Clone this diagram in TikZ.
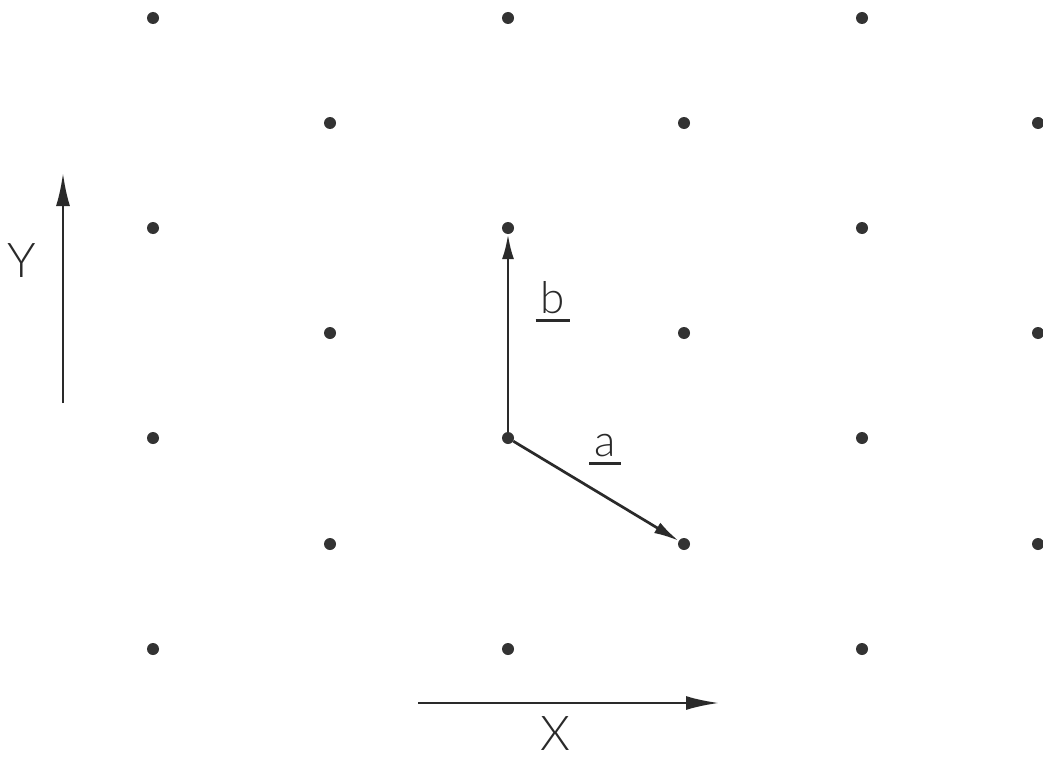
\documentclass[tikz,border=0pt]{standalone}
\usepackage{fontspec}
\setmainfont{Lato Light}
\usetikzlibrary{arrows.meta}
\definecolor{dotc}{HTML}{333333}
\definecolor{linec}{HTML}{2A2A2A}
\begin{document}
\begin{tikzpicture}[x=1pt,y=-1pt,
  dot/.style={circle,fill=dotc,inner sep=0pt,minimum size=12pt},
  vec/.style={line width=2.7pt,draw=linec,-{Latex[length=25pt,width=12pt]}},
  axisarrow/.style={line width=2.7pt,draw=linec,-{Latex[length=33pt,width=14pt]}},
  lbl/.style={font=\fontsize{44}{48}\selectfont,inner sep=0pt,text=linec},
  axlbl/.style={font=\fontsize{48}{52}\selectfont,inner sep=0pt,text=linec},
  uline/.style={line width=2.3pt,draw=linec}]
\useasboundingbox (0,0) rectangle (1043,760);
\fill[white] (0,0) rectangle (1043,760);
\foreach \r/\yy in {0/18,2/228,4/438,6/649}
  \foreach \c/\xx in {0/153,2/508,4/862}
    \node[dot] (d\r\c) at (\xx,\yy) {};
\foreach \r/\yy in {1/123,3/333,5/544}
  \foreach \c/\xx in {1/330,3/684,5/1038}
    \node[dot] (d\r\c) at (\xx,\yy) {};
% lattice vectors
\draw[vec] (d42) -- (d22);
\draw[vec] (d42) -- (d53);
% labels
\node[lbl] (lb) at (553,298) {b};
\draw[uline] ([xshift=-5pt,yshift=-6pt]lb.south west) -- ([xshift=5pt,yshift=-6pt]lb.south east);
\node[lbl] (la) at (605,446) {a};
\draw[uline] ([xshift=-5pt,yshift=-6pt]la.south west) -- ([xshift=5pt,yshift=-6pt]la.south east);
% axes
\coordinate (y0) at (63,403);
\coordinate (y1) at (63,173);
\draw[axisarrow] (y0) -- (y1);
\node[axlbl] (Y) at (22,261) {Y};
\coordinate (x0) at (418,703);
\coordinate (x1) at (719,703);
\draw[axisarrow] (x0) -- (x1);
\node[axlbl] (X) at (555,734) {X};
\end{tikzpicture}
\end{document}
